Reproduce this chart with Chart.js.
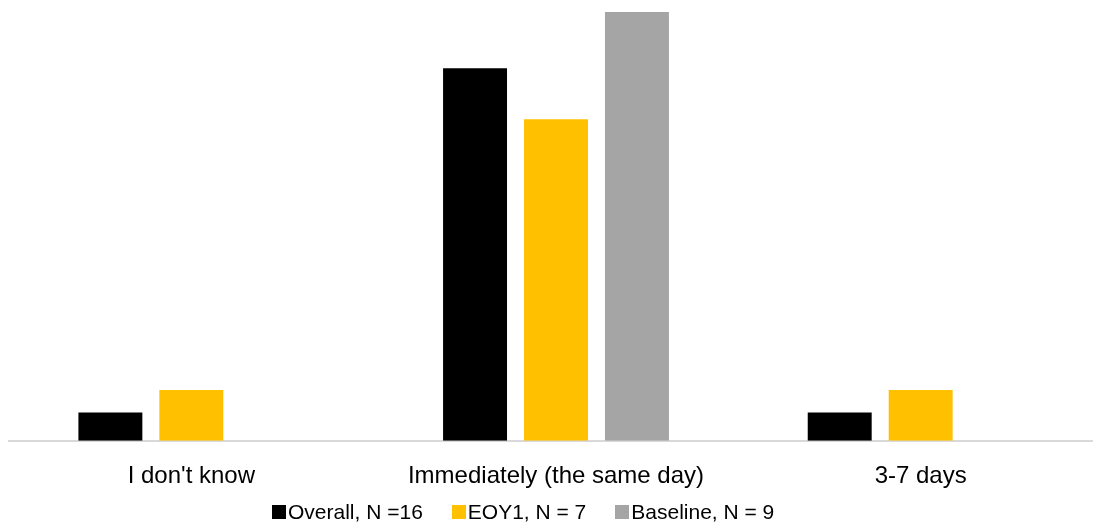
<!DOCTYPE html>
<html>
<head>
<meta charset="utf-8">
<script src="https://cdn.jsdelivr.net/npm/chart.js"></script>
<style>
    html, body { margin: 0; padding: 0; background: #fff; overflow: hidden; }
    #wrap { position: relative; width: 1104px; height: 532px; }
    #legend {
        position: absolute; left: 272px; top: 500px; height: 24px;
        display: flex; align-items: center;
        font-family: "Liberation Sans", Arial, sans-serif; font-size: 21px; color: #000;
        white-space: nowrap;
    }
    .item { display: flex; align-items: center; margin-right: 29px; }
    .box { width: 14px; height: 14px; margin-right: 2px; }
</style>
</head>
<body>
<div id="wrap">
    <canvas id="myChart"></canvas>
    <div id="legend"></div>
</div>
<script>
// Chart data
const categories = ["I don't know", "Immediately (the same day)", "3-7 days"];
const seriesNames = ["Overall, N =16", "EOY1, N = 7", "Baseline, N = 9"];
const overallValues = [6.6, 86.9, 6.6];
const eoy1Values = [11.8, 75, 11.8];
const baselineValues = [0, 100, 0];
const seriesColors = ["#000000", "#FFC000", "#A5A5A5"];

const fontFamily = '"Liberation Sans", Arial, sans-serif';

function makeDataset(i, values) {
    return {
        label: seriesNames[i],
        data: values,
        backgroundColor: seriesColors[i],
        borderWidth: 0,
        barPercentage: 0.79,
        categoryPercentage: 0.666
    };
}

const ctx = document.getElementById('myChart').getContext('2d');
const myChart = new Chart(ctx, {
    type: 'bar',
    data: {
        labels: categories,
        datasets: [
            makeDataset(0, overallValues),
            makeDataset(1, eoy1Values),
            makeDataset(2, baselineValues)
        ]
    },
    options: {
        responsive: true,
        maintainAspectRatio: false,
        animation: false,
        layout: {
            padding: { top: 12, left: 9, right: 1, bottom: 28.5 }
        },
        plugins: {
            legend: { display: false },
            tooltip: { enabled: false }
        },
        scales: {
            x: {
                grid: { display: false },
                border: { display: true, color: '#d9d9d9', width: 2 },
                ticks: {
                    color: '#000',
                    padding: 13,
                    maxRotation: 0,
                    font: { family: fontFamily, size: 24 }
                }
            },
            y: {
                display: false,
                min: 0,
                max: 100
            }
        }
    }
});

// Legend as plain html, built from the datasets
const legendEl = document.getElementById('legend');
myChart.data.datasets.forEach(ds => {
    const item = document.createElement('div');
    item.className = 'item';
    const box = document.createElement('span');
    box.className = 'box';
    box.style.background = ds.backgroundColor;
    const text = document.createElement('span');
    text.textContent = ds.label;
    item.appendChild(box);
    item.appendChild(text);
    legendEl.appendChild(item);
});
</script>
</body>
</html>
